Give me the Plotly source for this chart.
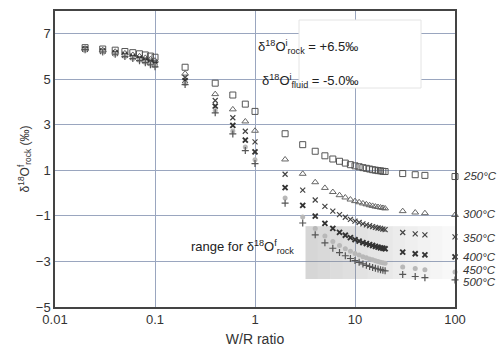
import math
import plotly.graph_objects as go

wr = [0.02, 0.03, 0.04, 0.05, 0.06, 0.07, 0.08, 0.09, 0.1,
      0.2, 0.4, 0.6, 0.8, 1,
      2, 3, 4, 5, 6, 7, 8, 9, 10, 11, 12, 13, 14, 15, 16, 17, 18, 19, 20,
      30, 40, 50, 100]

t250 = [6.39, 6.33, 6.28, 6.22, 6.17, 6.12, 6.07, 6.02, 5.97,
        5.53, 4.83, 4.31, 3.91, 3.59,
        2.61, 2.13, 1.84, 1.64, 1.50, 1.40, 1.32, 1.25, 1.20, 1.16, 1.12, 1.09, 1.06, 1.03, 1.01, 0.99, 0.98, 0.96, 0.95,
        0.86, 0.81, 0.78, 0.73]
t300 = [6.35, 6.28, 6.21, 6.14, 6.07, 6.01, 5.94, 5.88, 5.82,
        5.25, 4.35, 3.68, 3.15, 2.74,
        1.48, 0.85, 0.48, 0.23, 0.05, -0.09, -0.19, -0.28, -0.35, -0.40, -0.45, -0.49, -0.53, -0.56, -0.59, -0.61, -0.63, -0.65, -0.67,
        -0.79, -0.85, -0.88, -0.96]
t350 = [6.33, 6.25, 6.17, 6.10, 6.02, 5.94, 5.87, 5.80, 5.73,
        5.08, 4.07, 3.31, 2.72, 2.25,
        0.83, 0.13, -0.30, -0.58, -0.79, -0.94, -1.06, -1.15, -1.23, -1.29, -1.35, -1.39, -1.43, -1.47, -1.50, -1.53, -1.55, -1.58, -1.60,
        -1.73, -1.79, -1.83, -1.92]
t400 = [6.32, 6.23, 6.14, 6.05, 5.97, 5.89, 5.80, 5.72, 5.65,
        4.94, 3.82, 2.98, 2.33, 1.81,
        0.24, -0.54, -1.01, -1.33, -1.55, -1.72, -1.85, -1.95, -2.04, -2.11, -2.17, -2.22, -2.26, -2.30, -2.34, -2.37, -2.40, -2.42, -2.44,
        -2.59, -2.66, -2.71, -2.80]
t450 = [6.30, 6.21, 6.11, 6.02, 5.93, 5.84, 5.75, 5.67, 5.59,
        4.82, 3.63, 2.73, 2.03, 1.47,
        -0.21, -1.05, -1.55, -1.88, -2.12, -2.30, -2.44, -2.55, -2.65, -2.72, -2.79, -2.84, -2.89, -2.93, -2.97, -3.00, -3.03, -3.06, -3.08,
        -3.24, -3.31, -3.36, -3.46]
t500 = [6.30, 6.20, 6.10, 6.00, 5.91, 5.82, 5.73, 5.64, 5.55,
        4.77, 3.53, 2.60, 1.87, 1.30,
        -0.44, -1.31, -1.83, -2.18, -2.42, -2.61, -2.75, -2.87, -2.96, -3.04, -3.11, -3.17, -3.22, -3.26, -3.30, -3.33, -3.36, -3.39, -3.41,
        -3.57, -3.66, -3.71, -3.81]

labels = ["250°C", "300°C", "350°C", "400°C", "450°C", "500°C"]
label_y = [0.75, -0.92, -1.95, -2.80, -3.38, -3.92]

x_ticks = [0.01, 0.1, 1, 10, 100]
x_tick_text = ["0.01", "0.1", "1", "10", "100"]
y_ticks = [7, 5, 3, 1, -1, -3, -5]

range_box = [3.2, 100, -3.77, -1.45]

FONT = "Liberation Sans, Arial, sans-serif"

series = [
    (t250, dict(symbol="square-open", size=6, color="#555", line=dict(width=1, color="#555"))),
    (t300, dict(symbol="triangle-up-open", size=6, color="#666", line=dict(width=1, color="#666"))),
    (t350, dict(symbol="x-thin-open", size=5, color="#444", line=dict(width=1.2, color="#444"))),
    (t400, dict(symbol="x-thin-open", size=5, color="#333", line=dict(width=1.9, color="#333"))),
    (t450, dict(symbol="circle", size=5, color="#b8b8b8", line=dict(width=0))),
    (t500, dict(symbol="cross-thin-open", size=5, color="#555", line=dict(width=1.2, color="#555"))),
]

fig = go.Figure()

# shaded range box (gradient approximated by strips)
x0, x1 = math.log10(range_box[0]), math.log10(range_box[1])
n = 12
for i in range(n):
    a = x0 + (x1 - x0) * i / n
    b = x0 + (x1 - x0) * (i + 1) / n
    op = 0.36 - 0.30 * i / (n - 1)
    fig.add_shape(type="rect", xref="x", yref="y", x0=10 ** a, x1=10 ** b,
                  y0=range_box[2], y1=range_box[3], line=dict(width=0),
                  fillcolor=f"rgba(140,140,140,{op:.3f})", layer="between")

for ys, mk in series:
    fig.add_trace(go.Scatter(x=wr, y=ys, mode="markers", marker=mk,
                             showlegend=False, hoverinfo="skip", cliponaxis=False))

# info box
fig.add_shape(type="rect", xref="paper", yref="paper", x0=0.61, x1=0.915,
              y0=(307 - 88) / 296, y1=(307 - 20) / 296,
              fillcolor="white", line=dict(color="#e4e4e4", width=1), layer="above")
fig.add_annotation(xref="paper", yref="paper", x=0.762, y=(307 - 36) / 296,
                   text="δ<sup>18</sup>O<sup>i</sup><sub>rock</sub> = +6.5‰",
                   showarrow=False, font=dict(family=FONT, size=13, color="#222"))
fig.add_annotation(xref="paper", yref="paper", x=0.762, y=(307 - 70) / 296,
                   text="δ<sup>18</sup>O<sup>i</sup><sub>fluid</sub> = -5.0‰",
                   showarrow=False, font=dict(family=FONT, size=13, color="#222"))

fig.add_annotation(xref="x", yref="y", x=math.log10(0.75), y=-2.36,
                   text="range for δ<sup>18</sup>O<sup>f</sup><sub>rock</sub>",
                   showarrow=False, font=dict(family=FONT, size=13, color="#222"))

for lab, yy in zip(labels, label_y):
    fig.add_annotation(xref="paper", yref="y", x=1.015, y=yy, xanchor="left",
                       text=f"<i>{lab}</i>", showarrow=False,
                       font=dict(family=FONT, size=11.5, color="#333"))

fig.update_xaxes(type="log", range=[-2, 2], tickvals=x_ticks, ticktext=x_tick_text,
                 showgrid=True, gridcolor="#9aa6bf", gridwidth=1,
                 showline=True, linecolor="#444", linewidth=1.5, mirror=True,
                 ticks="", tickfont=dict(family=FONT, size=13, color="#333"),
                 title=dict(text="W/R ratio", font=dict(family=FONT, size=14, color="#333"), standoff=8),
                 zeroline=False, automargin=False)
fig.update_yaxes(range=[-5, 8], tickvals=y_ticks,
                 showgrid=True, gridcolor="#9aa6bf", gridwidth=1,
                 showline=True, linecolor="#444", linewidth=1.5, mirror=True,
                 ticks="", tickfont=dict(family=FONT, size=13, color="#333"),
                 title=dict(text="δ<sup>18</sup>O<sup>f</sup><sub>rock</sub> (‰)",
                            font=dict(family=FONT, size=12, color="#333"), standoff=4),
                 zeroline=False, automargin=False)

fig.update_layout(width=504, height=353, margin=dict(l=55, r=49, t=11, b=46, autoexpand=False),
                  plot_bgcolor="white", paper_bgcolor="white",
                  font=dict(family=FONT))

fig.write_html("out.html", config={"displayModeBar": False},
               post_script="document.body.style.margin='0';document.body.style.overflow='hidden';")
